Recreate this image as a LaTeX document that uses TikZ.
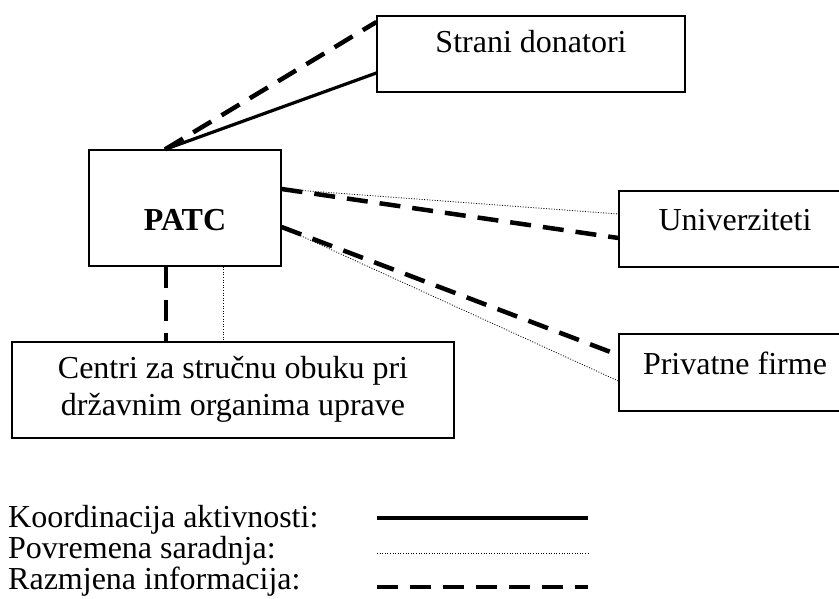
\documentclass[tikz,border=0pt]{standalone}
\usepackage{fontspec}
\setmainfont{Liberation Serif}
\begin{document}
\begin{tikzpicture}[x=1pt,y=-1pt,
  box/.style={draw,line width=1.2pt,inner sep=0pt},
  txt/.style={font=\fontsize{32}{37}\selectfont,inner sep=0pt,align=center},
  coord/.style={line width=3.2pt},
  occas/.style={line width=0.8pt,dash pattern=on 1pt off 1.6pt},
  info/.style={line width=4.5pt,dash pattern=on 21pt off 12pt}]
\clip (0,0) rectangle (839,599);
% boxes
\node[box,minimum width=308pt,minimum height=76pt] (donor) at (531,54) {};
\node[txt] (donortxt) at (531,42) {Strani donatori};
\node[box,minimum width=192pt,minimum height=116pt] (patc) at (185,208) {};
\node[txt,font=\fontsize{32}{37}\selectfont\bfseries] (patctxt) at (185,220) {PATC};
\node[box,minimum width=232pt,minimum height=76pt] (univ) at (735,229) {};
\node[txt] (univtxt) at (735,220) {Univerziteti};
\node[box,minimum width=232pt,minimum height=77pt] (priv) at (735,372.5) {};
\node[txt] (privtxt) at (735,363) {Privatne firme};
\node[box,minimum width=442pt,minimum height=96pt] (centri) at (233,390) {};
\node[txt] (centritxt) at (233,389) {Centri za stručnu obuku pri\\državnim organima uprave};
% anchor points
\coordinate (pt) at ([xshift=-20pt]patc.north);
\coordinate (pr1) at ([yshift=19pt]patc.east);
\coordinate (pr2) at ([yshift=-19pt]patc.east);
\coordinate (dA) at ([yshift=32pt]donor.west);
\coordinate (dB) at ([yshift=-19pt]donor.west);
\coordinate (uA) at ([yshift=15pt]univ.west);
\coordinate (uB) at ([yshift=-9pt]univ.west);
\coordinate (fA) at ([yshift=17.5pt]priv.west);
\coordinate (fB) at ([yshift=-8.5pt]priv.west);
\coordinate (pb1) at ([xshift=-19pt]patc.south);
\coordinate (pb2) at ([xshift=38pt]patc.south);
\coordinate (cb1) at (pb1 |- centri.north);
\coordinate (cb2) at (pb2 |- centri.north);
% connectors
\draw[info] (pt) -- (dA);
\draw[coord] (pt) -- (dB);
\draw[occas] (pr1) -- (uA);
\draw[info] (pr1) -- (uB);
\draw[info] (pr2) -- (fA);
\draw[occas] (pr2) -- (fB);
\draw[info] (pb1) -- (cb1);
\draw[occas] (pb2) -- (cb2);
% legend
\node[txt,anchor=base west] (l1) at (8,527) {Koordinacija aktivnosti:};
\node[txt,anchor=base west] (l2) at (8,558) {Povremena saradnja:};
\node[txt,anchor=base west] (l3) at (8,589) {Razmjena informacija:};
\coordinate (l1a) at (377,518); \coordinate (l1b) at (588,518);
\coordinate (l2a) at (377,553); \coordinate (l2b) at (588,553);
\coordinate (l3a) at (377,587); \coordinate (l3b) at (588,587);
\draw[coord] (l1a) -- (l1b);
\draw[occas] (l2a) -- (l2b);
\draw[info] (l3a) -- (l3b);
\end{tikzpicture}
\end{document}
